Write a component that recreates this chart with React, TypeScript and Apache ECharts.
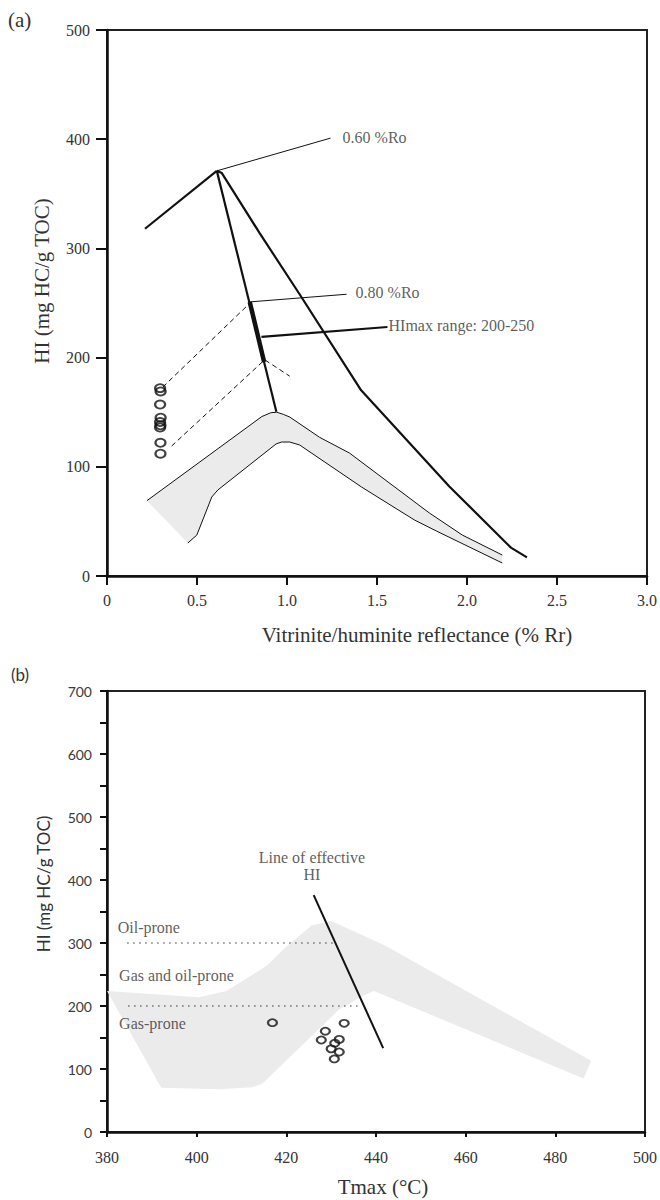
import React, { useEffect, useRef } from "react";
import * as echarts from "echarts";

// ---------- Panel (a) ----------
const xTicksA = ["0", "0.5", "1.0", "1.5", "2.0", "2.5", "3.0"];
const yTicksA = ["0", "100", "200", "300", "400", "500"];
const bandUpperA = [[0.222, 69], [0.86, 146], [0.91, 149.5], [0.943, 150], [0.98, 148], [1.015, 145.6], [1.181, 127], [1.347, 112.6], [1.791, 57.7], [1.974, 37.5], [2.196, 19.2]];
const bandLowerA = [[0.449, 30.2], [0.499, 37.5], [0.582, 72.3], [0.616, 78.8], [0.94, 121], [0.97, 122.7], [1.015, 122.7], [1.07, 120], [1.414, 81.5], [1.708, 51.3], [1.83, 41.2], [2.196, 11.9]];
const leftArmA = [[0.211, 318], [0.61, 371]];
const innerArmA = [[0.61, 371], [0.941, 150.5]];
const himaxSegA = [[0.793, 251], [0.873, 196]];
const outerArmA = [[0.61, 371], [0.638, 369], [0.848, 314], [1.07, 258], [1.412, 170], [1.902, 82], [2.244, 26], [2.333, 17]];
const dashUpperA = [[0.31, 173], [0.782, 248]];
const dashLowerA = [[0.359, 119], [0.876, 198], [1.015, 183]];
const leader060A = [[0.61, 371], [1.242, 401]];
const leader080A = [[0.793, 251], [1.331, 258]];
const leaderHimaxA = [[0.858, 219], [1.558, 228]];
const samplesA = [[0.295, 172], [0.298, 169], [0.295, 157], [0.298, 145], [0.295, 141], [0.297, 138], [0.295, 136], [0.297, 122], [0.297, 112]];
const labelTextsA = ["0.60 %Ro", "0.80 %Ro", "HImax range: 200-250"];
const labelAnchorsA = [[1.309, 402], [1.381, 260], [1.564, 229]];

// ---------- Panel (b) ----------
const xTicksB = ["380", "400", "420", "440", "460", "480", "500"];
const yTicksB = ["0", "100", "200", "300", "400", "500", "600", "700"];
const bandB = [[380, 224], [400.6, 214], [406.6, 224], [415.5, 263], [419.8, 293], [425.7, 328], [430, 335], [442, 296], [488, 113], [486.3, 85], [439.5, 224], [437, 216], [431.7, 194], [414.7, 77], [412.4, 71], [405, 68], [392.1, 70.4]];
const oilLineB = [[384.5, 300], [430.5, 300]];
const gasLineB = [[384.7, 200], [436.8, 200]];
const effectiveLineB = [[426.1, 376], [441.6, 133]];
const samplesB = [[416.9, 173.5], [432.9, 172.5], [428.7, 160], [427.8, 146], [431.8, 147], [430.8, 141], [430, 132], [431.8, 127], [430.7, 116]];
const labelTextsB = ["Oil-prone", "Gas and oil-prone", "Gas-prone", "Line of effective", "HI"];
const labelAnchorsB = [[382.4, 325], [382.7, 249], [382.7, 173], [425.7, 436.5], [425.7, 408]];
const labelCenteredB = [false, false, false, true, true];

const SERIF = "'Liberation Serif', 'Times New Roman', serif";
const SANS = "Lato, 'Open Sans', sans-serif";
const INK = "#111";
const TXT = "#333";

function lineSeries(data: number[][], xi: number, width: number, extra: any = {}) {
  return {
    type: "line",
    xAxisIndex: xi,
    yAxisIndex: xi,
    data,
    symbol: "none",
    silent: true,
    lineStyle: { color: INK, width, ...(extra.lineStyle || {}) },
    z: extra.z || 3,
  };
}

export default function App() {
  const ref = useRef<HTMLDivElement>(null);
  useEffect(() => {
    if (!ref.current) return;
    const chart = echarts.init(ref.current, undefined, { renderer: "svg" });
    const bandPolyA = [...bandUpperA, ...bandLowerA.slice().reverse()];

    const axisCommon = (tickLen: number, labelMargin: number, font: string, size: number) => ({
      type: "value",
      axisLine: { show: true, onZero: false, lineStyle: { color: INK, width: 2.5 } },
      axisTick: { show: true, length: tickLen, lineStyle: { color: INK, width: 2 } },
      axisLabel: { margin: labelMargin, fontFamily: font, fontSize: size, color: TXT },
      splitLine: { show: false },
    });

    const option: any = {
      animation: false,
      backgroundColor: "#fff",
      grid: [
        { left: 107, top: 30, width: 541, height: 546, show: true, borderColor: "#222", borderWidth: 2, backgroundColor: "transparent" },
        { left: 107, top: 691, width: 541, height: 441, show: true, borderColor: "#222", borderWidth: 2, backgroundColor: "transparent" },
      ],
      xAxis: [
        {
          ...axisCommon(9, 16, SERIF, 16),
          gridIndex: 0, min: 0, max: 3, interval: 0.5,
          axisLabel: { margin: 16, fontFamily: SERIF, fontSize: 16, color: TXT, formatter: (v: number) => xTicksA[Math.round(v / 0.5)] ?? "" },
        },
        {
          ...axisCommon(5, 17, SERIF, 16),
          gridIndex: 1, min: 380, max: 500, interval: 20,
          axisLabel: { margin: 17, fontFamily: SERIF, fontSize: 16, color: TXT, formatter: (v: number) => xTicksB[Math.round((v - 380) / 20)] ?? "" },
        },
      ],
      yAxis: [
        {
          ...axisCommon(11, 17, SERIF, 16),
          gridIndex: 0, min: 0, max: 500, interval: 100,
          axisLabel: { margin: 17, fontFamily: SERIF, fontSize: 16, color: TXT, formatter: (v: number) => yTicksA[Math.round(v / 100)] ?? "" },
        },
        {
          ...axisCommon(7, 15, SANS, 14),
          gridIndex: 1, min: 0, max: 700, interval: 50,
          axisLabel: { margin: 15, fontFamily: SANS, fontSize: 14, color: "#3a3a3a", formatter: (v: number) => (v % 100 === 0 ? yTicksB[v / 100] : "") },
        },
      ],
      graphic: [
        { type: "text", x: 8, y: 20, style: { text: "(a)", font: `21px ${SERIF}`, fill: TXT, verticalAlign: "middle" } },
        { type: "text", x: 11, y: 674, style: { text: "(b)", font: `17px ${SANS}`, fill: TXT, verticalAlign: "middle" } },
        { type: "text", x: 42, y: 281, rotation: Math.PI / 2, style: { text: "HI (mg HC/g TOC)", font: `21px ${SERIF}`, fill: TXT, align: "center", verticalAlign: "middle" } },
        { type: "text", x: 417, y: 635, style: { text: "Vitrinite/huminite reflectance (% Rr)", font: `21px ${SERIF}`, fill: TXT, align: "center", verticalAlign: "middle" } },
        { type: "text", x: 43, y: 884, rotation: Math.PI / 2, style: { text: "HI (mg HC/g TOC)", font: `17px ${SANS}`, fill: TXT, align: "center", verticalAlign: "middle" } },
        { type: "text", x: 383, y: 1187, style: { text: "Tmax (°C)", font: `21px ${SERIF}`, fill: TXT, align: "center", verticalAlign: "middle" } },
      ],
      series: [
        // ----- panel (a) -----
        {
          type: "custom",
          xAxisIndex: 0,
          yAxisIndex: 0,
          silent: true,
          z: 1,
          data: [bandPolyA[0]],
          renderItem: (_p: any, api: any) => ({
            type: "polygon",
            shape: { points: bandPolyA.map((p) => api.coord(p)) },
            style: { fill: "#ebebeb", stroke: "none" },
          }),
        },
        lineSeries(bandUpperA, 0, 1),
        lineSeries(bandLowerA, 0, 1),
        lineSeries(leftArmA, 0, 2.2),
        lineSeries(innerArmA, 0, 2.2),
        lineSeries(himaxSegA, 0, 4.5),
        lineSeries(outerArmA, 0, 2.2),
        lineSeries(leader060A, 0, 1),
        lineSeries(leader080A, 0, 1),
        lineSeries(leaderHimaxA, 0, 2.2),
        lineSeries(dashUpperA, 0, 1, { lineStyle: { type: [5, 3.5] } }),
        lineSeries(dashLowerA, 0, 1, { lineStyle: { type: [5, 3.5] } }),
        {
          type: "scatter",
          xAxisIndex: 0,
          yAxisIndex: 0,
          data: samplesA,
          symbol: "circle",
          symbolSize: [10, 8],
          itemStyle: { color: "rgba(0,0,0,0)", borderColor: INK, borderWidth: 2 },
          silent: true,
          z: 5,
        },
        {
          type: "scatter",
          xAxisIndex: 0,
          yAxisIndex: 0,
          symbolSize: 0,
          silent: true,
          data: labelTextsA.map((t, i) => ({ name: t, value: labelAnchorsA[i] })),
          label: { show: true, position: "right", distance: 0, formatter: "{b}", fontFamily: SERIF, fontSize: 16, color: TXT },
          z: 6,
        },
        // ----- panel (b) -----
        {
          type: "custom",
          xAxisIndex: 1,
          yAxisIndex: 1,
          silent: true,
          z: 1,
          data: [bandB[0]],
          renderItem: (_p: any, api: any) => ({
            type: "polygon",
            shape: { points: bandB.map((p) => api.coord(p)) },
            style: { fill: "#ebebeb", stroke: "none" },
          }),
        },
        lineSeries(oilLineB, 1, 1.2, { lineStyle: { type: [1.5, 4.5], color: "#333" } }),
        lineSeries(gasLineB, 1, 1.2, { lineStyle: { type: [1.5, 4.5], color: "#333" } }),
        lineSeries(effectiveLineB, 1, 2),
        {
          type: "scatter",
          xAxisIndex: 1,
          yAxisIndex: 1,
          data: samplesB,
          symbol: "circle",
          symbolSize: [9, 7],
          itemStyle: { color: "rgba(0,0,0,0)", borderColor: INK, borderWidth: 2 },
          silent: true,
          z: 5,
        },
        {
          type: "scatter",
          xAxisIndex: 1,
          yAxisIndex: 1,
          symbolSize: 0,
          silent: true,
          data: labelTextsB.map((t, i) => ({
            name: t,
            value: labelAnchorsB[i],
            label: labelCenteredB[i] ? { position: "inside", align: "center" } : { position: "right", distance: 0 },
          })),
          label: { show: true, formatter: "{b}", fontFamily: SERIF, fontSize: 16, color: TXT },
          z: 6,
        },
      ],
    };
    chart.setOption(option);
    return () => chart.dispose();
  }, []);

  return (
    <div
      ref={ref}
      style={{ position: "absolute", left: 0, top: 0, width: 660, height: 1200, background: "#fff" }}
    />
  );
}
